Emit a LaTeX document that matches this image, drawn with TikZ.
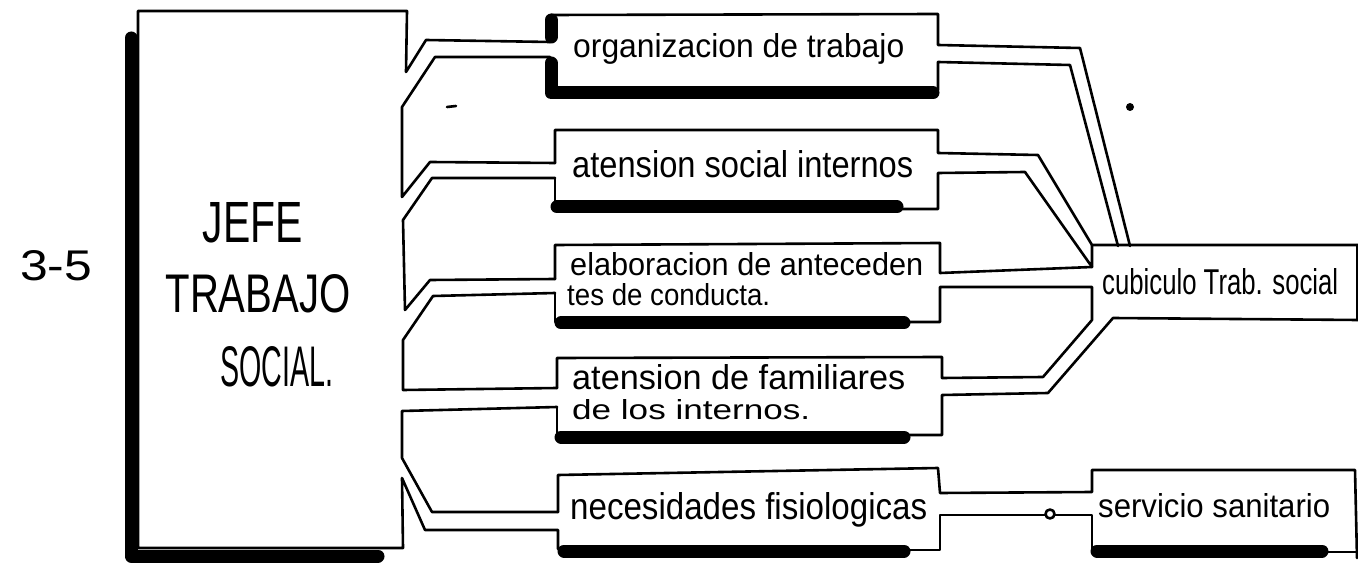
\documentclass[tikz,border=0pt]{standalone}
\usepackage{fontspec}
\usepackage{graphicx}
\newfontfamily\hand[FakeStretch=0.78]{Liberation Sans}
\newcommand\hw[3]{\resizebox{#1pt}{#2pt}{\hand #3}}
\tikzset{
  wall/.style={line width=2.6pt, line join=round, line cap=round},
  shadow/.style={line width=13pt, line cap=round, line join=round},
  lbl/.style={inner sep=0pt, anchor=base west},
  ctr/.style={inner sep=0pt, anchor=base},
}
\begin{document}
\begin{tikzpicture}[x=1pt,y=-1pt]
\useasboundingbox (0,0) rectangle (1358,569);
\fill[white] (0,0) rectangle (1358,569);

% ---------- JEFE TRABAJO SOCIAL ----------
\draw[shadow] (131,38) -- (131,556) -- (378,556);
\draw[wall] (550,42) -- (426,40) -- (406,72) -- (407,11) -- (138,11) -- (138,548) -- (403,548) -- (402,478) -- (425,530) -- (558,530) -- (558,549);
\draw[wall] (550,57) -- (435,57) -- (402,107) -- (402,197) -- (430,162) -- (555,163);
\draw[wall] (555,178) -- (432,178) -- (403,220) -- (405,310) -- (430,280) -- (555,279);
\draw[wall] (555,293) -- (433,296) -- (403,340) -- (403,390) -- (557,388);
\draw[wall] (557,407) -- (402,411) -- (402,458) -- (432,512) -- (558,512);

\node[ctr] (jefe) at (253,243) {\hw{100}{40}{JEFE}};
\node[ctr] (trab) at (258,313) {\hw{185}{38}{TRABAJO}};
\node[ctr] (soc) at (277,387) {\hw{113}{40}{SOCIAL.}};
\node[ctr] (tres) at (56,281) {\hw{72}{30}{3-5}};

% ---------- organizacion de trabajo ----------
\draw[shadow] (551,20) -- (551,37);
\draw[shadow] (551,63) -- (551,93) -- (933,93);
\draw[wall] (551,15) -- (938,14) -- (938,45) -- (1080,48) -- (1130,246);
\draw[wall] (938,90) -- (938,62) -- (1070,65) -- (1118,246);
\node[lbl] (org) at (573,58) {\hw{331}{24}{organizacion de trabajo}};

% ---------- atension social internos ----------
\draw[wall] (555,163) -- (555,130) -- (938,130) -- (938,153) -- (1038,155) -- (1092,245) -- (1358,245);
\draw[wall] (555,178) -- (555,205);
\draw[shadow] (557,207) -- (897,207);
\draw[wall] (897,209) -- (938,209) -- (938,173) -- (1025,172) -- (1092,267) -- (1092,245);
\node[lbl] (asi) at (572,178) {\hw{341}{27}{atension social internos}};

% ---------- elaboracion de antecedentes ----------
\draw[wall] (555,279) -- (555,245) -- (940,243) -- (940,273) -- (1092,267);
\draw[wall] (555,293) -- (555,322);
\draw[shadow] (561,323) -- (904,323);
\draw[wall] (904,322) -- (940,322) -- (940,287) -- (1092,287) -- (1092,320) -- (1043,377) -- (942,378) -- (942,357) -- (557,358) -- (557,388);
\node[lbl] (ela1) at (570,276) {\hw{353}{23}{elaboracion de anteceden}};
\node[lbl] (ela2) at (567,306) {\hw{203}{22}{tes de conducta.}};

% ---------- atension de familiares ----------
\draw[wall] (557,407) -- (557,436);
\draw[shadow] (561,437) -- (904,437);
\draw[wall] (904,435) -- (942,435) -- (942,395) -- (1048,393) -- (1113,318) -- (1358,320);
\node[lbl] (fam1) at (572,390) {\hw{333}{25}{atension de familiares}};
\node[lbl] (fam2) at (572,420) {\hw{238}{20}{de los internos.}};

% ---------- cubiculo ----------
\draw[wall] (1357,245) -- (1357,320);
\node[lbl] (cub) at (1102,295) {\hw{236}{26}{cubiculo Trab. social}};

% ---------- necesidades fisiologicas ----------
\draw[wall] (558,512) -- (558,475) -- (938,468) -- (940,493) -- (1092,492) -- (1092,470) -- (1355,470) -- (1357,558);
\draw[shadow] (564,551) -- (904,551);
\draw[wall] (904,550) -- (940,550) -- (940,515) -- (1045,515);
\draw[wall] (1050,514) circle (4.5);
\draw[wall] (1055,515) -- (1092,515) -- (1092,550);
\node[lbl] (nec) at (570,519) {\hw{357}{27}{necesidades fisiologicas}};

% ---------- servicio sanitario ----------
\draw[shadow] (1097,551) -- (1322,551);
\draw[wall] (1322,552) -- (1358,552);
\node[lbl] (ser) at (1098,517) {\hw{232}{24}{servicio sanitario}};

% marks
\fill (1130,107) circle (4);
\draw[wall] (447,107) -- (456,106);
\end{tikzpicture}
\end{document}
